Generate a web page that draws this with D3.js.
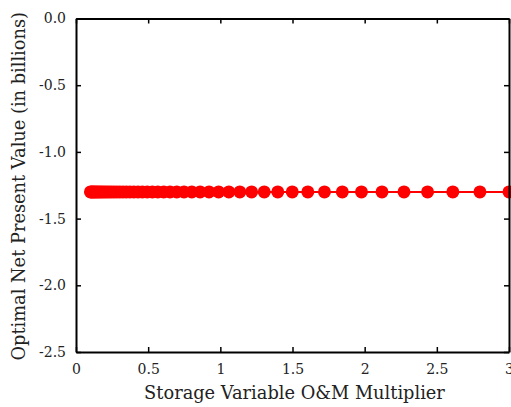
<!DOCTYPE html>
<html>
<head>
<meta charset="utf-8">
<script src="https://cdn.jsdelivr.net/npm/d3@7"></script>
<style>
  html, body { margin: 0; padding: 0; background: #fff; overflow: hidden; }
  svg { display: block; }
  text { font-family: "DejaVu Serif", "Liberation Serif", serif; fill: #222; }
</style>
</head>
<body>
<svg id="chart" width="511" height="407"></svg>
<script>
// Storage variable O&M multipliers (log-spaced sweep)
const multipliers = [
  0.1, 0.10719, 0.11489, 0.12315, 0.13200, 0.14149, 0.15166, 0.16256, 0.17424, 0.18677,
  0.20019, 0.21458, 0.23000, 0.24653, 0.26425, 0.28325, 0.30361, 0.32543, 0.34882, 0.37389,
  0.40076, 0.42957, 0.46044, 0.49354, 0.52901, 0.56703, 0.60779, 0.65147, 0.69830, 0.74849,
  0.80228, 0.85995, 0.92176, 0.98801, 1.05902, 1.13514, 1.21673, 1.30418, 1.39792, 1.49839,
  1.60609, 1.72152, 1.84526, 1.97788, 2.12004, 2.27242, 2.43575, 2.61082, 2.79847, 3.0
];
// Optimal net present value, billions
const npvValues = [
  -1.30, -1.30, -1.30, -1.30, -1.30, -1.30, -1.30, -1.30, -1.30, -1.30,
  -1.30, -1.30, -1.30, -1.30, -1.30, -1.30, -1.30, -1.30, -1.30, -1.30,
  -1.30, -1.30, -1.30, -1.30, -1.30, -1.30, -1.30, -1.30, -1.30, -1.30,
  -1.30, -1.30, -1.30, -1.30, -1.30, -1.30, -1.30, -1.30, -1.30, -1.30,
  -1.30, -1.30, -1.30, -1.30, -1.30, -1.30, -1.30, -1.30, -1.30, -1.30
];
const xTicks = [0, 0.5, 1, 1.5, 2, 2.5, 3];
const yTicks = [0, -0.5, -1.0, -1.5, -2.0, -2.5];
const xTickLabels = ["0", "0.5", "1", "1.5", "2", "2.5", "3"];
const yTickLabels = ["0.0", "-0.5", "-1.0", "-1.5", "-2.0", "-2.5"];

const points = multipliers.map((m, i) => ({ x: m, y: npvValues[i] }));

const svg = d3.select("#chart");
const plotLeft = 76, plotRight = 509, plotTop = 18.5, plotBottom = 352;

const x = d3.scaleLinear().domain([0, 3]).range([plotLeft, plotRight]);
const y = d3.scaleLinear().domain([-2.5, 0]).range([plotBottom, plotTop]);

// Series line and markers
svg.append("path")
  .datum(points)
  .attr("fill", "none")
  .attr("stroke", "#ff0000")
  .attr("stroke-width", 2)
  .attr("d", d3.line().x(d => x(d.x)).y(d => y(d.y)));

svg.append("g").selectAll("circle")
  .data(points)
  .join("circle")
  .attr("cx", d => x(d.x))
  .attr("cy", d => y(d.y))
  .attr("r", 6.5)
  .attr("fill", "#ff0000");

// Axes with inward ticks on all four sides
const tickLen = 5;
const fmtX = (d, i) => xTickLabels[i];
const fmtY = (d, i) => yTickLabels[i];

const gBottom = svg.append("g").attr("transform", `translate(0,${plotBottom})`)
  .call(d3.axisBottom(x).tickValues(xTicks).tickFormat(fmtX).tickSizeInner(-tickLen).tickSizeOuter(0).tickPadding(12));
const gTop = svg.append("g").attr("transform", `translate(0,${plotTop})`)
  .call(d3.axisTop(x).tickValues(xTicks).tickFormat("").tickSizeInner(-tickLen).tickSizeOuter(0));
const gLeft = svg.append("g").attr("transform", `translate(${plotLeft},0)`)
  .call(d3.axisLeft(y).tickValues(yTicks).tickFormat(fmtY).tickSizeInner(-tickLen).tickSizeOuter(0).tickPadding(10));
const gRight = svg.append("g").attr("transform", `translate(${plotRight},0)`)
  .call(d3.axisRight(y).tickValues(yTicks).tickFormat("").tickSizeInner(-tickLen).tickSizeOuter(0));

[gBottom, gTop, gLeft, gRight].forEach(g => {
  g.select(".domain").attr("stroke", "#000").attr("stroke-width", 2);
  g.selectAll(".tick line").attr("stroke", "#000").attr("stroke-width", 1.5);
  g.selectAll(".tick text").style("font-family", "\"DejaVu Serif\", serif").style("font-size", "14px").attr("fill", "#222");
});

// Axis titles
svg.append("text")
  .attr("x", (plotLeft + plotRight) / 2 + 2)
  .attr("y", 399)
  .attr("text-anchor", "middle")
  .style("font-size", "17.8px")
  .text("Storage Variable O&M Multiplier");

svg.append("text")
  .attr("transform", `translate(25,${(plotTop + plotBottom) / 2 + 1}) rotate(-90)`)
  .attr("text-anchor", "middle")
  .style("font-size", "17.8px")
  .text("Optimal Net Present Value (in billions)");
</script>
</body>
</html>
